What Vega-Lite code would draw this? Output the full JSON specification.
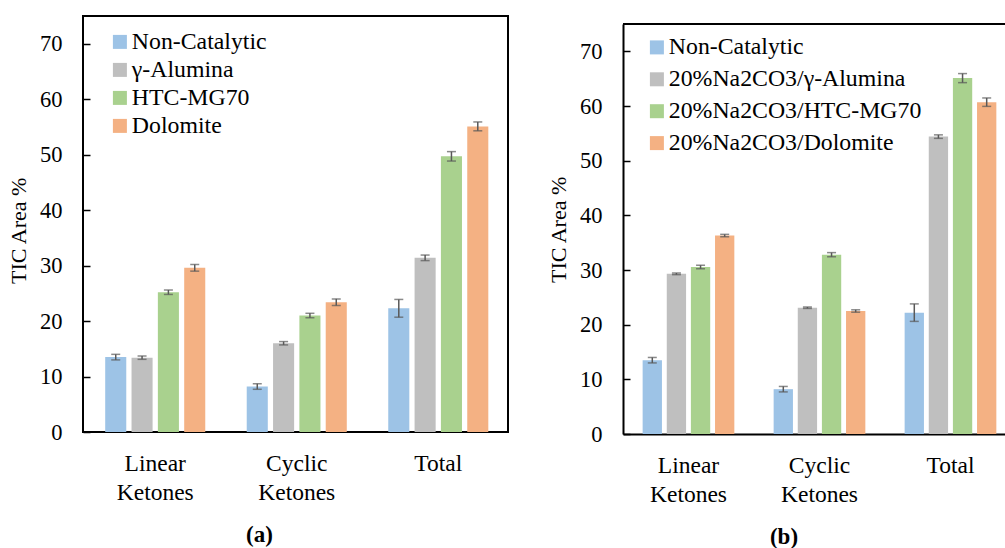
{
  "$schema": "https://vega.github.io/schema/vega-lite/v6.json",
  "background": "white",
  "padding": {"left": 6, "top": 15, "right": 0, "bottom": 0},
  "spacing": 38,
  "datasets": {
    "a": [
      {"cat": "Linear Ketones", "series": "Non-Catalytic", "value": 13.5, "lo": 13.0, "hi": 14.0},
      {"cat": "Linear Ketones", "series": "γ-Alumina", "value": 13.4, "lo": 13.1, "hi": 13.7},
      {"cat": "Linear Ketones", "series": "HTC-MG70", "value": 25.2, "lo": 24.8, "hi": 25.6},
      {"cat": "Linear Ketones", "series": "Dolomite", "value": 29.6, "lo": 29.0, "hi": 30.2},
      {"cat": "Cyclic Ketones", "series": "Non-Catalytic", "value": 8.2, "lo": 7.7, "hi": 8.7},
      {"cat": "Cyclic Ketones", "series": "γ-Alumina", "value": 16.0, "lo": 15.7, "hi": 16.3},
      {"cat": "Cyclic Ketones", "series": "HTC-MG70", "value": 21.0, "lo": 20.6, "hi": 21.4},
      {"cat": "Cyclic Ketones", "series": "Dolomite", "value": 23.4, "lo": 22.8, "hi": 24.0},
      {"cat": "Total", "series": "Non-Catalytic", "value": 22.3, "lo": 20.7, "hi": 23.9},
      {"cat": "Total", "series": "γ-Alumina", "value": 31.4, "lo": 30.9, "hi": 31.9},
      {"cat": "Total", "series": "HTC-MG70", "value": 49.7, "lo": 48.85, "hi": 50.55},
      {"cat": "Total", "series": "Dolomite", "value": 55.1, "lo": 54.3, "hi": 55.9}
    ],
    "b": [
      {"cat": "Linear Ketones", "series": "Non-Catalytic", "value": 13.5, "lo": 13.0, "hi": 14.0},
      {"cat": "Linear Ketones", "series": "20%Na2CO3/γ-Alumina", "value": 29.3, "lo": 29.15, "hi": 29.45},
      {"cat": "Linear Ketones", "series": "20%Na2CO3/HTC-MG70", "value": 30.55, "lo": 30.23, "hi": 30.87},
      {"cat": "Linear Ketones", "series": "20%Na2CO3/Dolomite", "value": 36.3, "lo": 36.08, "hi": 36.52},
      {"cat": "Cyclic Ketones", "series": "Non-Catalytic", "value": 8.2, "lo": 7.7, "hi": 8.7},
      {"cat": "Cyclic Ketones", "series": "20%Na2CO3/γ-Alumina", "value": 23.1, "lo": 22.97, "hi": 23.23},
      {"cat": "Cyclic Ketones", "series": "20%Na2CO3/HTC-MG70", "value": 32.8, "lo": 32.42, "hi": 33.18},
      {"cat": "Cyclic Ketones", "series": "20%Na2CO3/Dolomite", "value": 22.5, "lo": 22.28, "hi": 22.72},
      {"cat": "Total", "series": "Non-Catalytic", "value": 22.2, "lo": 20.6, "hi": 23.8},
      {"cat": "Total", "series": "20%Na2CO3/γ-Alumina", "value": 54.4, "lo": 54.08, "hi": 54.72},
      {"cat": "Total", "series": "20%Na2CO3/HTC-MG70", "value": 65.1, "lo": 64.27, "hi": 65.93},
      {"cat": "Total", "series": "20%Na2CO3/Dolomite", "value": 60.7, "lo": 59.93, "hi": 61.47}
    ]
  },
  "config": {
    "font": "Liberation Serif",
    "view": {"stroke": null},
    "axis": {
      "labelFont": "Liberation Serif",
      "titleFont": "Liberation Serif",
      "labelColor": "black",
      "titleColor": "black",
      "grid": false,
      "titleFontWeight": "normal",
      "labelFontWeight": "normal"
    },
    "legend": {
      "labelFont": "Liberation Serif",
      "labelColor": "black",
      "labelFontSize": 23.8,
      "symbolType": "square",
      "symbolSize": 196,
      "symbolStrokeWidth": 0,
      "labelOffset": 0,
      "padding": 0,
      "labelLimit": 400
    }
  },
  "hconcat": [
    {
      "width": 425,
      "height": 416,
      "view": {"stroke": "black", "strokeWidth": 2},
      "data": {"name": "a"},
      "encoding": {
        "x": {
          "field": "cat", "type": "nominal",
          "sort": ["Linear Ketones", "Cyclic Ketones", "Total"],
          "scale": {"paddingInner": 0.293, "paddingOuter": 0.148, "align": 0.53},
          "axis": {
            "title": "(a)", "titleFont": "Liberation Serif", "titleFontWeight": "bold", "titleFontSize": 23, "titleX": 176, "titlePadding": 19,
            "labelAngle": 0, "ticks": false, "domain": false, "labelFont": "Liberation Serif", "labelFontSize": 23.5, "labelFontWeight": "normal",
            "labelExpr": "split(datum.label, ' ')", "labelLineHeight": 29.7, "labelPadding": 19, "labelBaseline": "top"
          }
        },
        "xOffset": {
          "field": "series", "type": "nominal",
          "sort": ["Non-Catalytic", "γ-Alumina", "HTC-MG70", "Dolomite"],
          "scale": {"paddingInner": 0.2, "paddingOuter": 0}
        },
        "y": {
          "field": "value", "type": "quantitative",
          "scale": {"domain": [0, 75], "nice": false},
          "axis": {
            "title": "TIC Area %", "titleFont": "Liberation Serif", "titleFontSize": 22, "titlePadding": 9, "titleY": 214.3,
            "values": [0, 10, 20, 30, 40, 50, 60, 70], "domain": false,
            "tickSize": -7, "tickColor": "black", "tickWidth": 1.5,
            "labelFont": "Liberation Serif", "labelFontSize": 22.5, "labelPadding": 28
          }
        }
      },
      "layer": [
        {
          "mark": {"type": "bar"},
          "encoding": {
            "color": {
              "field": "series", "type": "nominal",
              "scale": {"domain": ["Non-Catalytic", "γ-Alumina", "HTC-MG70", "Dolomite"], "range": ["#9DC3E6", "#BFBFBF", "#A9D18E", "#F4B183"]},
              "legend": {"title": null, "orient": "none", "legendX": 25, "legendY": 14, "rowPadding": 3, "labelFont": "Liberation Serif", "labelFontSize": 23.8}
            }
          }
        },
        {
          "mark": {"type": "rule", "color": "#595959", "strokeWidth": 1.5},
          "encoding": {
            "y": {"field": "lo", "type": "quantitative"},
            "y2": {"field": "hi"}
          }
        },
        {
          "mark": {"type": "tick", "color": "#595959", "size": 9, "thickness": 1.5},
          "encoding": {"y": {"field": "lo", "type": "quantitative"}}
        },
        {
          "mark": {"type": "tick", "color": "#595959", "size": 9, "thickness": 1.5},
          "encoding": {"y": {"field": "hi", "type": "quantitative"}}
        }
      ]
    },
    {
      "width": 382,
      "height": 418,
      "data": {"name": "b"},
      "layer": [
        {
          "encoding": {
            "x": {
              "field": "cat", "type": "nominal",
              "sort": ["Linear Ketones", "Cyclic Ketones", "Total"],
              "scale": {"paddingInner": 0.3, "paddingOuter": 0.108, "align": 0.694},
              "axis": {
                "title": "(b)", "titleFont": "Liberation Serif", "titleFontWeight": "bold", "titleFontSize": 23, "titleX": 160.5, "titlePadding": 19,
                "labelAngle": 0, "ticks": false, "domain": true, "domainColor": "black", "domainWidth": 2,
                "labelFont": "Liberation Serif", "labelFontSize": 23.5, "labelFontWeight": "normal",
                "labelExpr": "split(datum.label, ' ')", "labelLineHeight": 29.7, "labelPadding": 19, "labelBaseline": "top"
              }
            },
            "xOffset": {
              "field": "series", "type": "nominal",
              "sort": ["Non-Catalytic", "20%Na2CO3/γ-Alumina", "20%Na2CO3/HTC-MG70", "20%Na2CO3/Dolomite"],
              "scale": {"paddingInner": 0.2, "paddingOuter": 0}
            },
            "y": {
              "field": "value", "type": "quantitative",
              "scale": {"domain": [0, 75], "range": [418, 8], "nice": false},
              "axis": {
                "title": "TIC Area %", "titleFont": "Liberation Serif", "titleFontSize": 22, "titlePadding": 9, "titleY": 213.4,
                "values": [0, 10, 20, 30, 40, 50, 60, 70], "domain": true, "domainColor": "black", "domainWidth": 2,
                "tickSize": -7, "tickColor": "black", "tickWidth": 1.5,
                "labelFont": "Liberation Serif", "labelFontSize": 22.5, "labelPadding": 28
              }
            }
          },
          "layer": [
            {
              "mark": {"type": "bar"},
              "encoding": {
                "color": {
                  "field": "series", "type": "nominal",
                  "scale": {"domain": ["Non-Catalytic", "20%Na2CO3/γ-Alumina", "20%Na2CO3/HTC-MG70", "20%Na2CO3/Dolomite"], "range": ["#9DC3E6", "#BFBFBF", "#A9D18E", "#F4B183"]},
                  "legend": {"title": null, "orient": "none", "legendX": 22, "legendY": 19.5, "rowPadding": 6.9, "labelFont": "Liberation Serif", "labelFontSize": 23.8}
                }
              }
            },
            {
              "mark": {"type": "rule", "color": "#595959", "strokeWidth": 1.5},
              "encoding": {
                "y": {"field": "lo", "type": "quantitative"},
                "y2": {"field": "hi"}
              }
            },
            {
              "mark": {"type": "tick", "color": "#595959", "size": 9, "thickness": 1.5},
              "encoding": {"y": {"field": "lo", "type": "quantitative"}}
            },
            {
              "mark": {"type": "tick", "color": "#595959", "size": 9, "thickness": 1.5},
              "encoding": {"y": {"field": "hi", "type": "quantitative"}}
            }
          ]
        },
        {
          "mark": {"type": "rule", "color": "black", "strokeWidth": 2},
          "encoding": {"y": {"datum": 75, "type": "quantitative"}}
        }
      ]
    }
  ],
  "resolve": {
    "scale": {"color": "independent", "x": "independent", "y": "independent", "xOffset": "independent"},
    "legend": {"color": "independent"}
  }
}
